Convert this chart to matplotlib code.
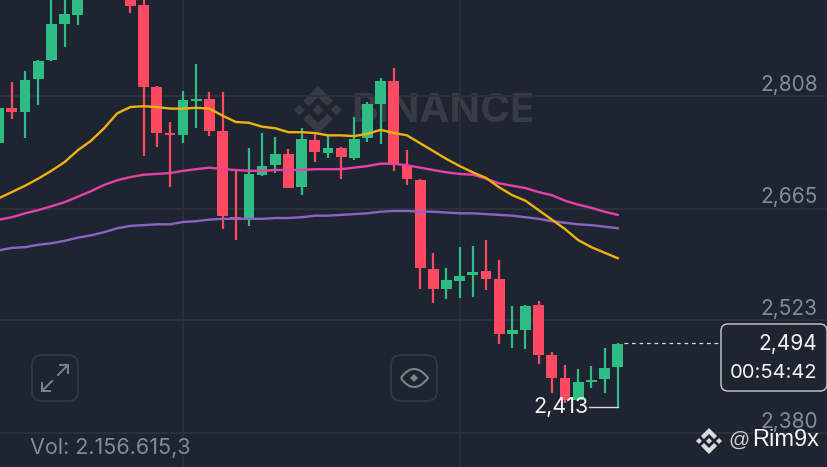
import numpy as np
import matplotlib
matplotlib.use('Agg')
import matplotlib.pyplot as plt
from matplotlib.patches import FancyBboxPatch, Polygon, PathPatch
from matplotlib.path import Path

plt.rcParams['font.family'] = ['Inter', 'DejaVu Sans']

# candles (indexes 7-9 sit above the visible window)
opens = [2748, 2793, 2788, 2829, 2854, 2899, 2911, 2943, 2965, 2985, 2936, 2923,
         2819, 2761, 2758, 2802, 2804, 2764, 2654, 2653, 2708, 2720, 2734, 2692,
         2752, 2736, 2742, 2729, 2755, 2798, 2827, 2720, 2701, 2588, 2563, 2573,
         2581, 2586, 2576, 2506, 2511, 2543, 2479, 2450, 2422, 2445, 2449, 2464]
closes = [2793, 2788, 2828, 2853, 2899, 2912, 2943, 2965, 2985, 2975, 2922, 2820,
          2761, 2758, 2803, 2804, 2764, 2656, 2652, 2709, 2719, 2734, 2691, 2753,
          2737, 2742, 2731, 2753, 2798, 2827, 2722, 2703, 2590, 2563, 2574, 2579,
          2584, 2576, 2506, 2511, 2541, 2479, 2450, 2422, 2445, 2447, 2463, 2493]
highs = [2794, 2826, 2840, 2854, 2945, 2936, 2950, 2975, 2995, 2995, 2950, 2940,
         2821, 2775, 2814, 2849, 2813, 2813, 2714, 2742, 2761, 2756, 2741, 2767,
         2760, 2757, 2743, 2781, 2800, 2831, 2844, 2739, 2703, 2609, 2590, 2616,
         2617, 2625, 2600, 2541, 2543, 2548, 2483, 2466, 2461, 2465, 2488, 2494]
lows = [2748, 2779, 2755, 2797, 2852, 2870, 2898, 2935, 2955, 2970, 2913, 2732,
        2743, 2692, 2748, 2767, 2757, 2639, 2625, 2643, 2706, 2710, 2691, 2682,
        2724, 2729, 2703, 2727, 2750, 2747, 2713, 2695, 2563, 2545, 2550, 2551,
        2553, 2562, 2493, 2488, 2487, 2468, 2431, 2418, 2422, 2437, 2431, 2413]

# moving averages
ma_yellow = [2678, 2686, 2694, 2703, 2713, 2724, 2739, 2751, 2767, 2786, 2794, 2795,
             2794, 2792, 2792, 2793, 2792, 2783, 2775, 2774, 2769, 2767, 2762, 2762,
             2761, 2758, 2758, 2757, 2760, 2765, 2761, 2758, 2748, 2738, 2728, 2719,
             2711, 2704, 2692, 2682, 2675, 2663, 2651, 2639, 2625, 2616, 2609, 2602]
ma_pink = [2651, 2654, 2659, 2663, 2668, 2673, 2680, 2687, 2695, 2701, 2705, 2708,
           2709, 2710, 2713, 2715, 2717, 2715, 2714, 2713, 2713, 2714, 2714, 2714,
           2715, 2715, 2715, 2717, 2719, 2722, 2722, 2720, 2717, 2714, 2711, 2709,
           2708, 2703, 2697, 2694, 2691, 2686, 2682, 2675, 2670, 2666, 2661, 2657]
ma_purple = [2612, 2615, 2616, 2619, 2621, 2624, 2628, 2631, 2635, 2640, 2643, 2644,
             2645, 2645, 2648, 2649, 2651, 2652, 2652, 2652, 2652, 2653, 2653, 2654,
             2656, 2656, 2657, 2658, 2659, 2661, 2662, 2662, 2661, 2661, 2660, 2659,
             2659, 2658, 2657, 2656, 2654, 2652, 2649, 2647, 2645, 2644, 2642, 2640]

price_ticks = [2808, 2665, 2523, 2380]
price_labels = ['2,808', '2,665', '2,523', '2,380']
time_grid = [14, 35]
last_price = 2494
low_price = 2413

BG = '#1f2530'
GRID = '#2d323d'
GREEN = '#2ebd85'
RED = '#fd4a62'
AXIS_TEXT = '#848c98'
MARK = '#363b46'

fig = plt.figure(figsize=(8.28, 4.67), dpi=100, facecolor=BG)


def pixel_axes(z):
    a = fig.add_axes([0, 0, 1, 1], zorder=z)
    a.set_xlim(0, 828)
    a.set_ylim(467, 0)
    a.axis('off')
    return a


def binance_logo(a, cx, cy, r, color):
    # centre and side diamonds, then the two chevrons
    s = r * 0.23
    for dx in (-r + s, 0, r - s):
        a.add_patch(Polygon([(cx + dx - s, cy), (cx + dx, cy - s), (cx + dx + s, cy), (cx + dx, cy + s)],
                            fc=color, ec='none'))
    w = r * 0.33
    for sign in (-1, 1):
        a.add_patch(Polygon([(cx, cy + sign * r), (cx + 0.62 * r, cy + sign * 0.38 * r),
                             (cx + 0.62 * r - w * 0.7, cy + sign * (0.38 * r - w * 0.7)),
                             (cx, cy + sign * (r - w * 1.4)),
                             (cx - 0.62 * r + w * 0.7, cy + sign * (0.38 * r - w * 0.7)),
                             (cx - 0.62 * r, cy + sign * 0.38 * r)], fc=color, ec='none'))


# watermark goes under the candles
ax_bg = pixel_axes(0)
binance_logo(ax_bg, 318, 110, 24, MARK)
ax_bg.text(351, 112, 'BINANCE', color=MARK, fontsize=29, fontweight='bold', va='center', ha='left')

ax = fig.add_axes([0, 0, 1, 1], zorder=1)
ax.patch.set_alpha(0)
ax.set_xlim(0.099, 62.97)
ax.set_ylim(2336.8, 2929.9)
ax.axis('off')

for p in price_ticks:
    ax.axhline(p, color=GRID, lw=1.3, zorder=1)
for t in time_grid:
    ax.axvline(t, color=GRID, lw=1.1, zorder=1)

idx = np.arange(len(opens))
o = np.array(opens)
c = np.array(closes)
colors = [GREEN if c[i] >= o[i] else RED for i in idx]
ax.vlines(idx, lows, highs, colors=colors, lw=1.6, zorder=3)
ax.bar(idx, np.abs(c - o), bottom=np.minimum(o, c), width=0.82, color=colors, zorder=3)

ax.plot(idx, ma_purple, color='#8c63c5', lw=1.7, zorder=4, solid_joinstyle='round')
ax.plot(idx, ma_pink, color='#e93fa9', lw=1.7, zorder=4, solid_joinstyle='round')
ax.plot(idx, ma_yellow, color='#f0b20f', lw=1.7, zorder=4, solid_joinstyle='round')

# last price and lowest price markers
ax.plot([idx[-1] + 0.5, 55.6], [last_price, last_price], color='#d5d8dc', lw=0.9, dashes=(3, 3), zorder=4)
ax.plot([idx[-1] - 2.2, idx[-1]], [low_price, low_price], color='#d8dbdf', lw=1.0, zorder=4)
ax.text(idx[-1] - 2.2, low_price, '2,413', color='#f2f3f5', fontsize=15.5, ha='right', va='center', zorder=5)

# price labels sit just above their grid lines
for p, label in zip(price_ticks, price_labels):
    ax.annotate(label, (62.2, p), xytext=(0, 8), textcoords='offset points', color=AXIS_TEXT,
                fontsize=15, ha='right', va='center', zorder=5)

# overlay: buttons, price box, footer
top = pixel_axes(2)
top.patch.set_alpha(0)
for x0 in (32, 391):
    top.add_patch(FancyBboxPatch((x0 + 8, 363), 30, 30, boxstyle='round,pad=8,rounding_size=10',
                                 fc=BG, ec='#333944', lw=1.3))

# expand arrows
icon = '#7d838d'
top.plot([58, 68], [375, 365], color=icon, lw=1.4)
top.plot([60, 68, 68], [365, 365, 373], color=icon, lw=1.4)
top.plot([52, 42], [381, 391], color=icon, lw=1.4)
top.plot([42, 42, 50], [383, 391, 391], color=icon, lw=1.4)

# eye icon
eye = Path([(401, 378), (409, 366), (419, 366), (428, 378), (419, 390), (409, 390), (401, 378)],
           [Path.MOVETO, Path.CURVE4, Path.CURVE4, Path.CURVE4, Path.CURVE4, Path.CURVE4, Path.CURVE4])
top.add_patch(PathPatch(eye, fc='none', ec=icon, lw=1.5))
top.add_patch(Polygon([(410, 378), (414, 374), (418, 378), (414, 382)], fc=icon, ec='none'))

top.add_patch(FancyBboxPatch((727, 330), 94, 55, boxstyle='round,pad=6,rounding_size=7',
                             fc=BG, ec='#c9ccd1', lw=1.0))
top.text(817, 344, '2,494', color='#f2f3f5', fontsize=15, ha='right', va='center')
top.text(817, 373, '00:54:42', color='#f2f3f5', fontsize=14.5, ha='right', va='center')

top.text(30, 448, 'Vol: 2.156.615,3', color=AXIS_TEXT, fontsize=15.5, ha='left', va='center')
binance_logo(top, 709, 441, 13, '#d9dbde')
top.text(728, 440, '@', color='#c9ccd0', fontsize=15, ha='left', va='center', family='Liberation Sans')
top.text(752, 440, 'Rim9x', color='#f4f5f6', fontsize=17, ha='left', va='center', family='Liberation Sans')

fig.savefig('out.png', dpi=100, facecolor=BG)
